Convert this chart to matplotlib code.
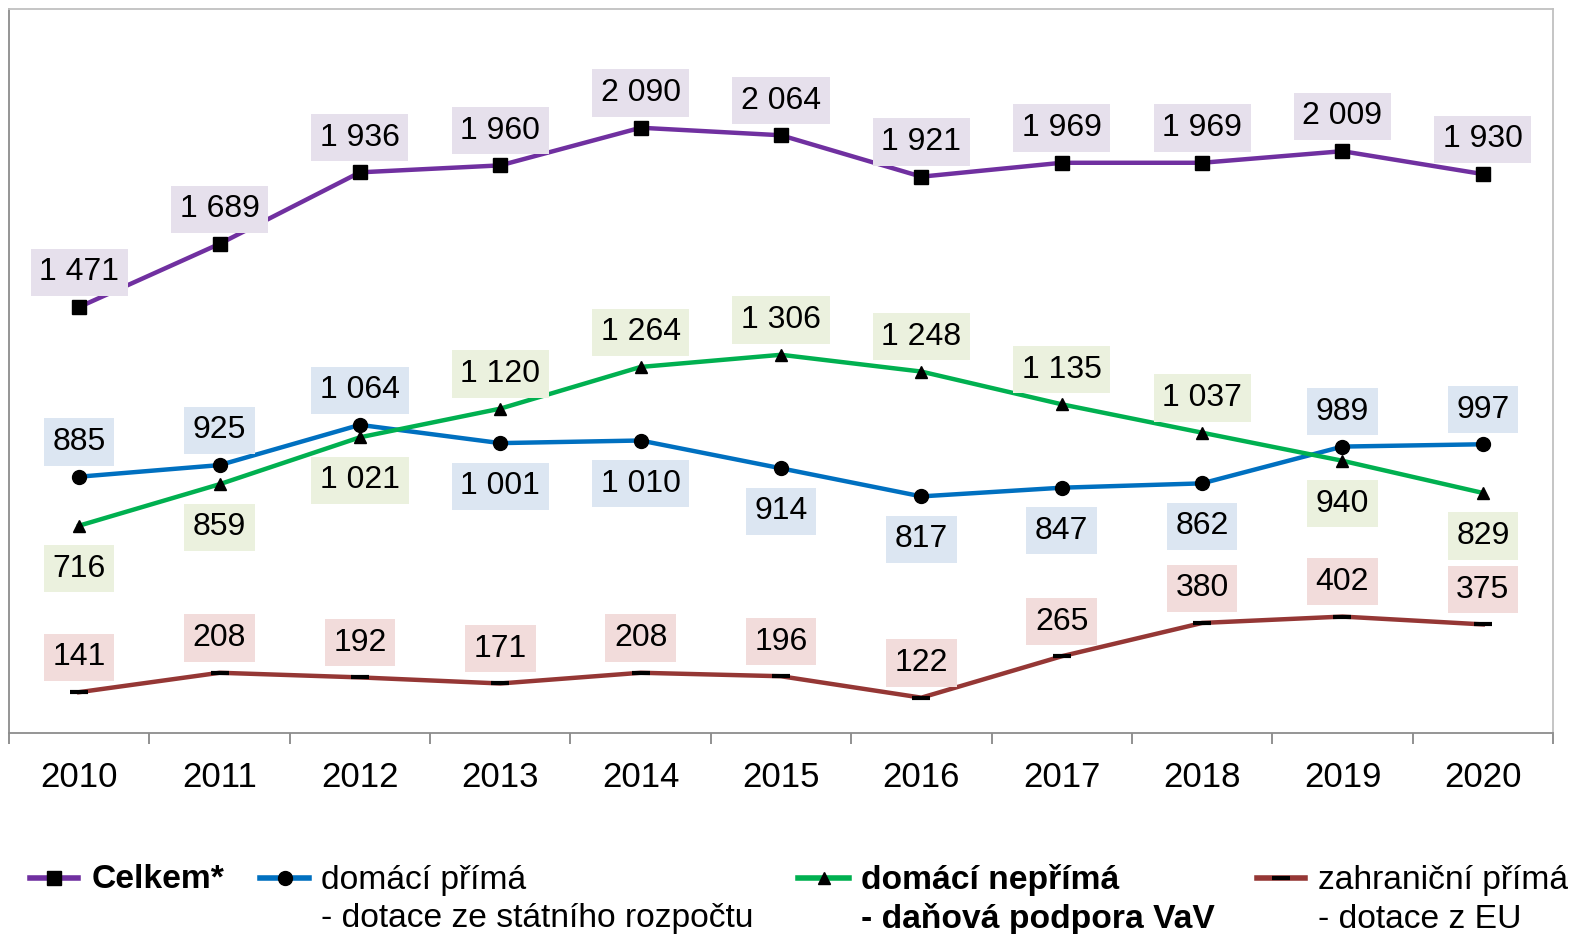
import numpy as np
import matplotlib.pyplot as plt
from matplotlib.lines import Line2D

plt.rcParams['font.family'] = ['Liberation Sans', 'DejaVu Sans']

years = ['2010', '2011', '2012', '2013', '2014', '2015', '2016', '2017', '2018', '2019', '2020']
celkem = [1471, 1689, 1936, 1960, 2090, 2064, 1921, 1969, 1969, 2009, 1930]
prima_dom = [885, 925, 1064, 1001, 1010, 914, 817, 847, 862, 989, 997]
neprima_dom = [716, 859, 1021, 1120, 1264, 1306, 1248, 1135, 1037, 940, 829]
zahranicni = [141, 208, 192, 171, 208, 196, 122, 265, 380, 402, 375]

# label above (+1) or below (-1) the point
pos_celkem = [1] * 11
pos_prima = [1, 1, 1, -1, -1, -1, -1, -1, -1, 1, 1]
pos_neprima = [-1, -1, -1, 1, 1, 1, 1, 1, 1, -1, -1]
pos_zahr = [1] * 11

def fmt(v):
    return f'{v:,}'.replace(',', ' ')

fig = plt.figure(figsize=(15.76, 9.34), dpi=100)
ax = fig.add_axes([9/1576, 1-733/934, 1544/1576, 724/934])
x = np.arange(len(years))

series = [
    (celkem, '#7030A0', dict(marker='s', markersize=10), '#E6E0EC', pos_celkem),
    (prima_dom, '#0070C0', dict(marker='o', markersize=10), '#DCE6F2', pos_prima),
    (neprima_dom, '#00B050', dict(marker='^', markersize=9), '#EBF1DE', pos_neprima),
    (zahranicni, '#953735', dict(marker='_', markersize=13, markeredgewidth=3), '#F2DCDB', pos_zahr),
]

for vals, col, mk, boxcol, pos in series:
    ax.plot(x, vals, color=col, linewidth=3.2, markerfacecolor='black',
            markeredgecolor='black', zorder=3, **mk)
    for xi, v, p in zip(x, vals, pos):
        off = 25 if p > 0 else -31
        ax.annotate(fmt(v), (xi, v), xytext=(0, off), textcoords='offset points',
                    ha='center', va='center', fontsize=23, zorder=4,
                    bbox=dict(boxstyle='square,pad=0.27', fc=boxcol, ec='none'))

ax.set_xlim(-0.5, 10.5)
ax.set_ylim(0, 2500)
ax.set_yticks([])
ax.set_xticks(x)
ax.set_xticklabels(years, fontsize=25)
ax.set_xticks(np.arange(-0.5, 11, 1), minor=True)
ax.tick_params(axis='x', which='major', length=0, pad=20)
ax.tick_params(axis='x', which='minor', length=8, width=1.3, color='#888888')
for s in ['top', 'right']:
    ax.spines[s].set_color('#C0C0C0')
    ax.spines[s].set_linewidth(1.3)
for s in ['left', 'bottom']:
    ax.spines[s].set_color('#8C8C8C')
    ax.spines[s].set_linewidth(1.3)

# legend drawn by hand
W, H = 1576, 934
leg = [
    (30, 78, '#7030A0', dict(marker='s', markersize=10), 92, ['Celkem*'], 'bold'),
    (260, 309, '#0070C0', dict(marker='o', markersize=10), 321,
     ['domácí přímá', '- dotace ze státního rozpočtu'], 'normal'),
    (798, 849, '#00B050', dict(marker='^', markersize=9), 861,
     ['domácí nepřímá', '- daňová podpora VaV'], 'bold'),
    (1257, 1305, '#953735', dict(marker='_', markersize=13, markeredgewidth=3), 1318,
     ['zahraniční přímá', '- dotace z EU'], 'normal'),
]
for x0, x1, col, mk, tx, lines, weight in leg:
    yl = 1 - 878/H
    fig.add_artist(Line2D([x0/W, x1/W], [yl, yl], color=col, linewidth=4))
    fig.add_artist(Line2D([(x0+x1)/2/W], [yl], color=col, markerfacecolor='black',
                          markeredgecolor='black', **mk))
    for i, t in enumerate(lines):
        fig.text(tx/W, 1 - (880 + 39*i)/H, t, fontsize=24.2, fontweight=weight,
                 ha='left', va='center')

fig.savefig('out.png', dpi=100)
